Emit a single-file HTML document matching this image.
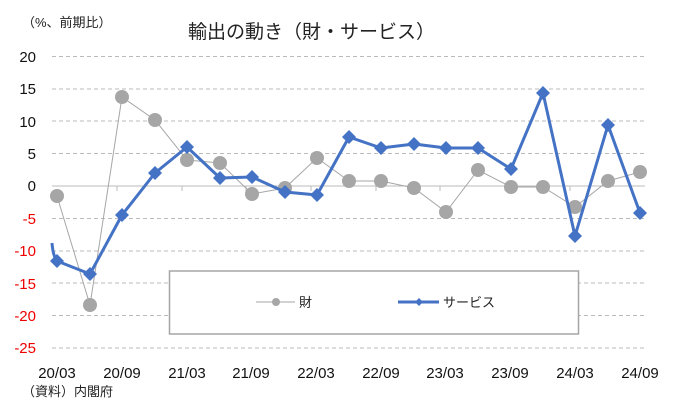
<!DOCTYPE html><html><head><meta charset="utf-8"><style>body{margin:0;background:#fff}svg{display:block}text{font-family:"Liberation Sans","Noto Sans CJK JP",sans-serif}</style></head><body>
<svg width="678" height="412" viewBox="0 0 678 412">
<text x="22" y="27" font-size="13" fill="#222">（%、前期比）</text>
<text x="188" y="38" font-size="19" fill="#222">輸出の動き（財・サービス）</text>
<g stroke="#bbb" stroke-dasharray="4,3" stroke-width="1">
<line x1="52" x2="645" y1="56.5" y2="56.5"/><line x1="52" x2="645" y1="89" y2="89"/><line x1="52" x2="645" y1="121" y2="121"/><line x1="52" x2="645" y1="153.5" y2="153.5"/><line x1="52" x2="645" y1="218.5" y2="218.5"/><line x1="52" x2="645" y1="251" y2="251"/><line x1="52" x2="645" y1="283" y2="283"/><line x1="52" x2="645" y1="315.5" y2="315.5"/><line x1="52" x2="645" y1="348" y2="348"/>
</g>
<line x1="52" x2="645" y1="186" y2="186" stroke="#bbb"/>
<g stroke="#bbb"><line x1="117" x2="117" y1="186" y2="191"/><line x1="182" x2="182" y1="186" y2="191"/><line x1="246" x2="246" y1="186" y2="191"/><line x1="311" x2="311" y1="186" y2="191"/><line x1="376" x2="376" y1="186" y2="191"/><line x1="440" x2="440" y1="186" y2="191"/><line x1="505" x2="505" y1="186" y2="191"/><line x1="570" x2="570" y1="186" y2="191"/></g>
<g font-size="15" text-anchor="end" fill="#111">
<text x="36" y="62">20</text><text x="36" y="94">15</text><text x="36" y="127">10</text><text x="36" y="159">5</text><text x="36" y="191">0</text>
<g fill="#e00"><text x="36" y="224">-5</text><text x="36" y="256">-10</text><text x="36" y="289">-15</text><text x="36" y="321">-20</text><text x="36" y="353">-25</text></g>
</g>
<g font-size="15" text-anchor="middle" fill="#111">
<text x="57" y="378">20/03</text><text x="122" y="378">20/09</text><text x="187" y="378">21/03</text><text x="251" y="378">21/09</text><text x="316" y="378">22/03</text><text x="381" y="378">22/09</text><text x="445" y="378">23/03</text><text x="510" y="378">23/09</text><text x="575" y="378">24/03</text><text x="640" y="378">24/09</text>
</g>
<text x="22" y="396" font-size="13" fill="#222">（資料）内閣府</text>
<polyline fill="none" stroke="#a6a6a6" stroke-width="1" points="57,196 90,305 122,97 155,120 187,160 220,163 252,194 285,188 317,158 349,181 381,181 414,188 446,212 478,170 511,187 543,187 575,207 608,181 640,172"/>
<g fill="#a6a6a6"><circle cx="57" cy="196" r="7"/><circle cx="90" cy="305" r="7"/><circle cx="122" cy="97" r="7"/><circle cx="155" cy="120" r="7"/><circle cx="187" cy="160" r="7"/><circle cx="220" cy="163" r="7"/><circle cx="252" cy="194" r="7"/><circle cx="285" cy="188" r="7"/><circle cx="317" cy="158" r="7"/><circle cx="349" cy="181" r="7"/><circle cx="381" cy="181" r="7"/><circle cx="414" cy="188" r="7"/><circle cx="446" cy="212" r="7"/><circle cx="478" cy="170" r="7"/><circle cx="511" cy="187" r="7"/><circle cx="543" cy="187" r="7"/><circle cx="575" cy="207" r="7"/><circle cx="608" cy="181" r="7"/><circle cx="640" cy="172" r="7"/></g>
<path d="M52,243 Q53,256 57,261" fill="none" stroke="#4472c4" stroke-width="3"/>
<polyline fill="none" stroke="#4472c4" stroke-width="3" stroke-linejoin="round" points="57,261 90,274 122,215 155,173 187,147 220,178 252,177 285,192 317,195 349,137 381,148 414,144 446,148 478,148 511,169 543,93 575,236 608,125 640,213"/>
<g fill="#4472c4">
<path d="M57,254l7,7l-7,7l-7,-7z"/><path d="M90,267l7,7l-7,7l-7,-7z"/><path d="M122,208l7,7l-7,7l-7,-7z"/><path d="M155,166l7,7l-7,7l-7,-7z"/><path d="M187,140l7,7l-7,7l-7,-7z"/><path d="M220,171l7,7l-7,7l-7,-7z"/><path d="M252,170l7,7l-7,7l-7,-7z"/><path d="M285,185l7,7l-7,7l-7,-7z"/><path d="M317,188l7,7l-7,7l-7,-7z"/><path d="M349,130l7,7l-7,7l-7,-7z"/><path d="M381,141l7,7l-7,7l-7,-7z"/><path d="M414,137l7,7l-7,7l-7,-7z"/><path d="M446,141l7,7l-7,7l-7,-7z"/><path d="M478,141l7,7l-7,7l-7,-7z"/><path d="M511,162l7,7l-7,7l-7,-7z"/><path d="M543,86l7,7l-7,7l-7,-7z"/><path d="M575,229l7,7l-7,7l-7,-7z"/><path d="M608,118l7,7l-7,7l-7,-7z"/><path d="M640,206l7,7l-7,7l-7,-7z"/>
</g>
<rect x="169.5" y="271" width="409" height="63" fill="#fff" stroke="#a6a6a6" stroke-width="1.5"/>
<line x1="256" x2="295" y1="302" y2="302" stroke="#a6a6a6"/><circle cx="276" cy="302" r="4" fill="#a6a6a6"/>
<text x="299" y="307" font-size="13" fill="#222">財</text>
<line x1="398" x2="439" y1="302" y2="302" stroke="#4472c4" stroke-width="3"/><path d="M419,298l4,4l-4,4l-4,-4z" fill="#4472c4"/>
<text x="443" y="307" font-size="13" fill="#222">サービス</text>
</svg></body></html>
